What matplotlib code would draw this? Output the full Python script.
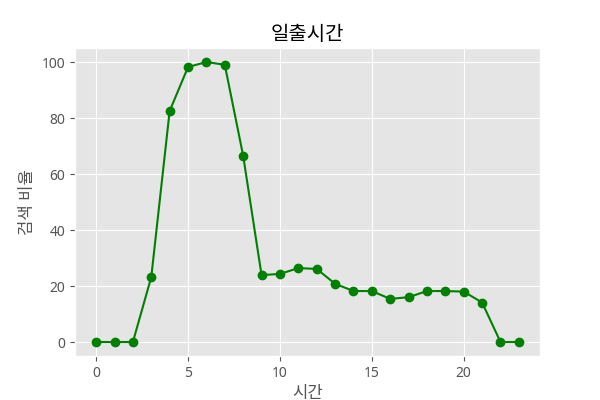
import matplotlib
matplotlib.use("Agg")
import matplotlib.pyplot as plt

hours = list(range(24))
ratio = [0, 0, 0, 23.2, 82.5, 98.2, 100, 99.0, 66.5, 23.9, 24.3, 26.4, 26.1,
         20.8, 18.2, 18.2, 15.4, 16.0, 18.2, 18.2, 18.0, 14.1, 0, 0]

plt.style.use("ggplot")
plt.rcParams['font.family'] = ['Noto Sans', 'Noto Sans CJK KR', 'DejaVu Sans']
plt.rcParams['axes.unicode_minus'] = False

fig, ax = plt.subplots(figsize=(6, 4), dpi=100)
ax.plot(hours, ratio, color="green", marker="o")
ax.set_title("일출시간")
ax.set_xlabel("시간")
ax.set_ylabel("검색 비율")
fig.savefig("out.png")
